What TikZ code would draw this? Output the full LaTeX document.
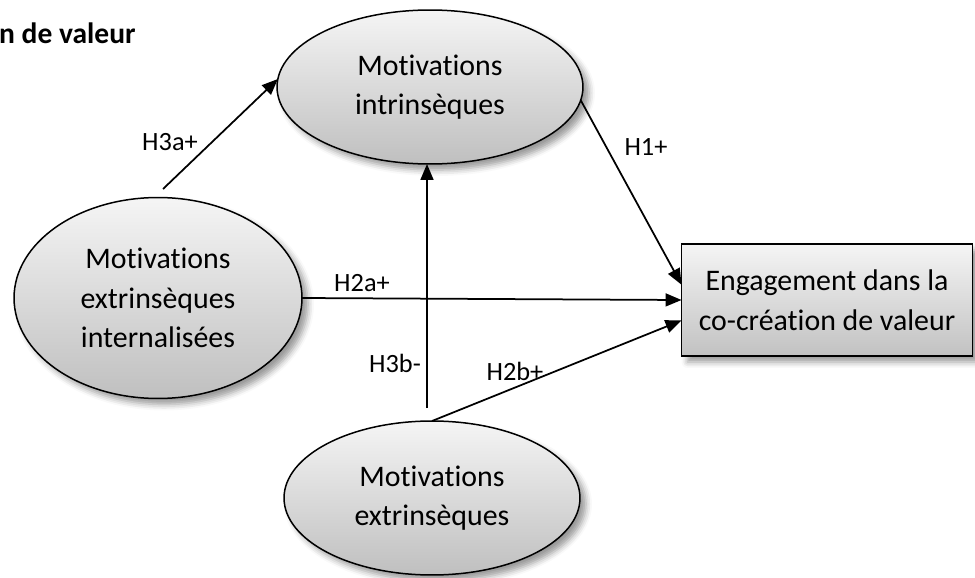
\documentclass[tikz,border=0pt]{standalone}
\usepackage{fontspec}
\setmainfont{Carlito}[Ligatures=NoCommon]
\usetikzlibrary{positioning,arrows.meta,shapes.geometric,shadows.blur}

\begin{document}
\begin{tikzpicture}[
x=0.02cm, y=-0.02cm,
construct/.style={
draw,
ellipse,
line width=0.03cm,
inner sep=0pt,
outer sep=0pt,
align=center,
top color=gray!8,
bottom color=gray!50,
font=\fontsize{17}{22.5}\selectfont,
blur shadow={shadow xshift=0.12cm, shadow yshift=-0.12cm, shadow blur radius=0.12cm, shadow opacity=40}
},
outcome/.style={
draw,
rectangle,
line width=0.03cm,
inner sep=0pt,
outer sep=0pt,
align=center,
top color=gray!8,
bottom color=gray!48,
font=\fontsize{17}{22.5}\selectfont,
blur shadow={shadow xshift=0.12cm, shadow yshift=-0.12cm, shadow blur radius=0.12cm, shadow opacity=40}
},
hyp/.style={font=\fontsize{15}{18}\selectfont},
link/.style={-{Triangle[length=0.32cm,width=0.26cm]}, line width=0.035cm}
]

\useasboundingbox (0,0) rectangle (975,578);

\node[font=\bfseries\fontsize{16.8}{19}\selectfont, anchor=base west] (title) at (-7,43) {n de valeur};

\node[construct, minimum width=6.12cm, minimum height=3.08cm] (intr) at (430,87) {Motivations\\intrinsèques};
\node[construct, minimum width=5.76cm, minimum height=4.02cm] (intern) at (158,298) {Motivations\\extrinsèques\\internalisées};
\node[construct, minimum width=5.92cm, minimum height=3.08cm] (extr) at (432,498) {Motivations\\extrinsèques};
\node[outcome, minimum width=5.82cm, minimum height=2.24cm] (engag) at (827,300) {Engagement dans la\\co-création de valeur};

\coordinate (h3a start) at (163,189);
\coordinate (h3b start) at (427,408);

\draw[link] (h3a start) -- (intr.177);
\draw[link] (intr.-5) -- (engag.174);
\draw[link] (intern.east) -- (engag.west);
\draw[link] (h3b start) -- (h3b start |- intr.south);
\draw[link] (extr.north) -- (engag.188);

\node[hyp] (h3a) at (170,142) {H3a+};
\node[hyp] (h1) at (646,147) {H1+};
\node[hyp] (h2a) at (362,283) {H2a+};
\node[hyp] (h3b) at (395,363) {H3b-};
\node[hyp] (h2b) at (515,371) {H2b+};

\end{tikzpicture}
\end{document}
